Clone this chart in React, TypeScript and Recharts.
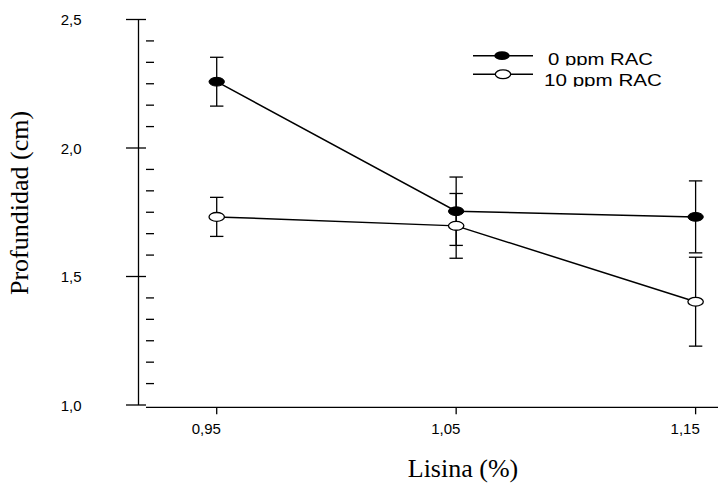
import React from "react"
import { LineChart, Line, XAxis, YAxis, ErrorBar, Legend, Label } from "recharts"

const lisina = [0.95, 1.05, 1.15]
const rac0 = [2.258, 1.754, 1.732]
const rac0Err = [0.095, 0.133, 0.14]
const rac10 = [1.732, 1.697, 1.402]
const rac10Err = [0.076, 0.126, 0.173]
const xTicks = [0.95, 1.05, 1.15]
const yMajor = [1.0, 1.5, 2.0, 2.5]
const minorSteps = 6
const seriesNames = ["0 ppm RAC", "10 ppm RAC"]

// major ticks plus 5 minor ones in between
const yTicks = yMajor.flatMap((v, i) =>
  i === 0
    ? [v]
    : Array.from({ length: minorSteps }, (_, k) => yMajor[i - 1] + ((v - yMajor[i - 1]) * (k + 1)) / minorSteps)
)

const data = lisina.map((x, i) => ({
  x,
  rac0: rac0[i],
  rac0Err: rac0Err[i],
  rac10: rac10[i],
  rac10Err: rac10Err[i],
}))

const sans = "'Liberation Sans', Arial, sans-serif"
const serif = "'Liberation Serif', 'Times New Roman', serif"

function YTick({ x, y, payload }: any) {
  const v = payload.value
  const major = Math.abs(v * 2 - Math.round(v * 2)) < 1e-6
  if (!major) return <line x1={x} x2={x + 8} y1={y} y2={y} stroke="#000" strokeWidth={1.3} />
  return (
    <g>
      <line x1={x - 20} x2={x} y1={y} y2={y} stroke="#000" strokeWidth={1.3} />
      <text x={x - 64.5} y={y + 5.8} textAnchor="end" fontSize={15} fontFamily={sans} fill="#000">
        {v.toFixed(1).replace(".", ",")}
      </text>
    </g>
  )
}

function XTick({ x, y, payload }: any) {
  return (
    <text x={x - 10.4} y={y + 22.2} textAnchor="middle" fontSize={15} fontFamily={sans} fill="#000">
      {payload.value.toFixed(2).replace(".", ",")}
    </text>
  )
}

function FilledDot(p: any) {
  if (p.cx == null) return null
  return <ellipse key={p.index} cx={p.cx} cy={p.cy} rx={7.7} ry={4.4} fill="#000" stroke="#000" strokeWidth={1} />
}

function OpenDot(p: any) {
  if (p.cx == null) return null
  return <ellipse key={p.index} cx={p.cx} cy={p.cy} rx={7.7} ry={4.4} fill="#fff" stroke="#000" strokeWidth={1.3} />
}

function LegendBox() {
  return (
    <svg width={260} height={50} style={{ display: "block", overflow: "visible" }}>
      <defs>
        <clipPath id="lg1">
          <rect x={0} y={0} width={260} height={25.5} />
        </clipPath>
        <clipPath id="lg2">
          <rect x={0} y={27} width={260} height={19.7} />
        </clipPath>
      </defs>
      <line x1={13} x2={73} y1={15.7} y2={15.7} stroke="#000" strokeWidth={1.5} />
      <ellipse cx={42} cy={15.7} rx={7.7} ry={4.4} fill="#000" />
      <text x={88} y={24.5} fontSize={17} fontFamily={sans} textLength={105} lengthAdjust="spacingAndGlyphs" clipPath="url(#lg1)">
        {seriesNames[0]}
      </text>
      <line x1={13} x2={73} y1={34.3} y2={34.3} stroke="#000" strokeWidth={1.5} />
      <ellipse cx={43} cy={34.3} rx={7.7} ry={4.4} fill="#fff" stroke="#000" strokeWidth={1.3} />
      <text x={84} y={45.5} fontSize={17} fontFamily={sans} textLength={118} lengthAdjust="spacingAndGlyphs" clipPath="url(#lg2)">
        {seriesNames[1]}
      </text>
    </svg>
  )
}

export default function App() {
  return (
    <div style={{ position: "absolute", left: 0, top: 0, width: 720, height: 483, background: "#fff" }}>
      <style>{`.yaxis-shift{transform:translateX(-7.5px)} .xaxis-shift{transform:translateY(2.3px)}`}</style>
      <LineChart width={720} height={483} data={data} margin={{ top: 19.5, right: 2, bottom: 38, left: 0 }}>
        <XAxis
          className="xaxis-shift"
          dataKey="x"
          type="number"
          domain={[0.92047, 1.15935]}
          allowDataOverflow
          ticks={xTicks}
          interval={0}
          height={40}
          tickSize={7}
          tickMargin={0}
          tick={<XTick />}
          axisLine={{ stroke: "#000", strokeWidth: 1.3 }}
          tickLine={{ stroke: "#000", strokeWidth: 1.3 }}
        >
          <Label
            content={(props: any) => {
              const vb = props.viewBox
              return (
                <text x={vb.x + 317} y={474.5} textAnchor="middle" fontSize={26} fontFamily={serif} fill="#000">
                  Lisina (%)
                </text>
              )
            }}
          />
        </XAxis>
        <YAxis
          className="yaxis-shift"
          type="number"
          domain={[1, 2.5]}
          allowDataOverflow
          ticks={yTicks}
          interval={0}
          width={146}
          tickSize={0}
          tickMargin={0}
          tick={<YTick />}
          tickLine={false}
          axisLine={{ stroke: "#000", strokeWidth: 1.3 }}
        >
          <Label
            content={() => (
              <text
                x={35}
                y={203}
                transform="rotate(-90 35 203)"
                textAnchor="middle"
                fontSize={26}
                fontFamily={serif}
                fill="#000"
              >
                Profundidad (cm)
              </text>
            )}
          />
        </YAxis>
        <Legend
          layout="horizontal"
          verticalAlign="middle"
          align="center"
          wrapperStyle={{ left: 460, top: 40, width: 260, height: 50 }}
          content={() => <LegendBox />}
        />
        <Line dataKey="rac0" stroke="#000" strokeWidth={1.5} dot={<FilledDot />} isAnimationActive={false}>
          <ErrorBar dataKey="rac0Err" direction="y" width={6.7} stroke="#000" strokeWidth={1.3} isAnimationActive={false} />
        </Line>
        <Line dataKey="rac10" stroke="#000" strokeWidth={1.5} dot={<OpenDot />} isAnimationActive={false}>
          <ErrorBar dataKey="rac10Err" direction="y" width={6.7} stroke="#000" strokeWidth={1.3} isAnimationActive={false} />
        </Line>
      </LineChart>
    </div>
  )
}
